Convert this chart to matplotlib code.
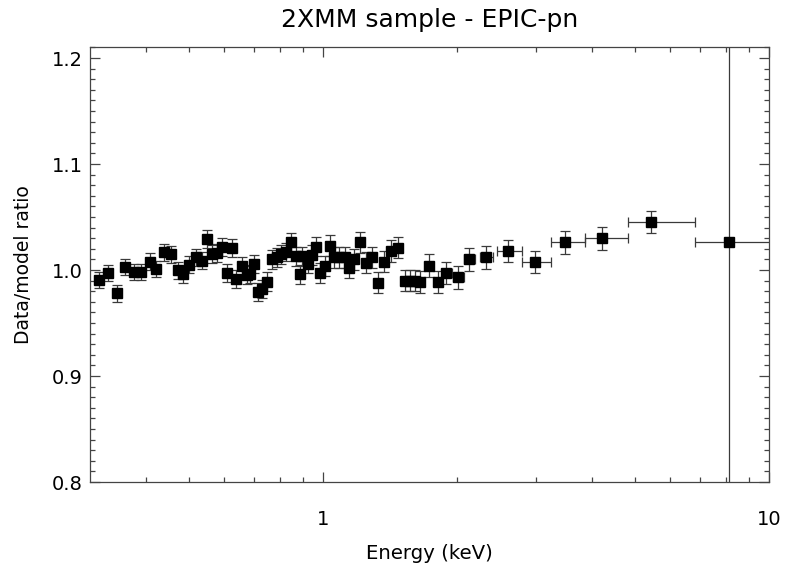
import numpy as np
import matplotlib
matplotlib.use('Agg')
import matplotlib.pyplot as plt
from matplotlib.ticker import FixedLocator, NullFormatter, MultipleLocator

plt.rcParams['font.family'] = ['DejaVu Sans']

# energy (keV) and data/model ratio
energy = [0.314, 0.329, 0.345, 0.360, 0.377, 0.390, 0.409, 0.423, 0.439, 0.455,
          0.472, 0.486, 0.501, 0.519, 0.534, 0.548, 0.562, 0.577, 0.592, 0.609,
          0.624, 0.637, 0.657, 0.674, 0.686, 0.700, 0.716, 0.731, 0.747, 0.767,
          0.787, 0.805, 0.825, 0.846, 0.868, 0.886, 0.899, 0.924, 0.946, 0.964,
          0.985, 1.010, 1.037, 1.060, 1.088, 1.117, 1.144, 1.176, 1.211, 1.247,
          1.287, 1.327, 1.371, 1.422, 1.469, 1.523, 1.569, 1.610, 1.652, 1.725,
          1.807, 1.890, 2.007, 2.129, 2.325, 2.601, 2.980, 3.479, 4.225, 5.450,
          8.145]
ratio = [0.991, 0.997, 0.978, 1.003, 0.998, 0.998, 1.008, 1.001, 1.017, 1.015,
         1.000, 0.996, 1.005, 1.012, 1.009, 1.029, 1.015, 1.016, 1.022, 0.997,
         1.021, 0.992, 1.004, 0.995, 0.996, 1.006, 0.979, 0.982, 0.989, 1.010,
         1.012, 1.015, 1.017, 1.026, 1.013, 0.996, 1.013, 1.006, 1.014, 1.022,
         0.997, 1.004, 1.023, 1.012, 1.012, 1.012, 1.002, 1.010, 1.026, 1.007,
         1.012, 0.988, 1.008, 1.018, 1.021, 0.990, 0.990, 0.990, 0.989, 1.004,
         0.989, 0.997, 0.993, 1.010, 1.012, 1.018, 1.008, 1.026, 1.030, 1.045,
         1.026]
ratio_err = [0.0076, 0.0076, 0.0078, 0.0078, 0.0078, 0.0078, 0.0080, 0.0080, 0.0080, 0.0080,
             0.0080, 0.0082, 0.0082, 0.0082, 0.0082, 0.0084, 0.0084, 0.0084, 0.0084, 0.0085,
             0.0085, 0.0085, 0.0085, 0.0086, 0.0086, 0.0086, 0.0086, 0.0087, 0.0087, 0.0088,
             0.0088, 0.0089, 0.0089, 0.0090, 0.0090, 0.0090, 0.0091, 0.0091, 0.0092, 0.0092,
             0.0095, 0.0095, 0.0096, 0.0096, 0.0097, 0.0097, 0.0098, 0.0098, 0.0099, 0.0099,
             0.0099, 0.0099, 0.0100, 0.0100, 0.0100, 0.0102, 0.0102, 0.0102, 0.0103, 0.0110,
             0.0104, 0.0105, 0.0106, 0.0108, 0.0108, 0.0108, 0.0104, 0.0108, 0.0110, 0.0104,
             0.5]
# bin edges for the wide high-energy bins (narrow bins hide under the markers)
e_lo = [None] * 61 + [1.848, 1.957, 2.067, 2.253, 2.460, 2.787, 3.237, 3.859, 4.823, 6.820]
e_hi = [None] * 61 + [1.946, 2.067, 2.195, 2.406, 2.787, 3.237, 3.859, 4.823, 6.820, 10.37]

energy = np.array(energy)
x_lo = np.array([e - lo if lo is not None else 0 for e, lo in zip(energy, e_lo)])
x_hi = np.array([hi - e if hi is not None else 0 for e, hi in zip(energy, e_hi)])

fig = plt.figure(figsize=(7.85, 5.72), dpi=100)
ax = fig.add_axes([0.1146, 0.1573, 0.865, 0.7597])

ax.errorbar(energy, ratio, yerr=ratio_err, xerr=[x_lo, x_hi], fmt='none',
            ecolor='#3a3a3a', elinewidth=0.9, capsize=3.5, capthick=0.9)
ax.plot(energy, ratio, 's', color='black', markersize=7, linestyle='none')

ax.set_xscale('log')
ax.set_xlim(0.3, 10)
ax.set_ylim(0.8, 1.21)

ax.xaxis.set_major_locator(FixedLocator([1, 10]))
ax.set_xticklabels(['1', '10'])
ax.xaxis.set_minor_locator(FixedLocator([0.4, 0.5, 0.6, 0.7, 0.8, 0.9,
                                         2, 3, 4, 5, 6, 7, 8, 9]))
ax.xaxis.set_minor_formatter(NullFormatter())
ax.yaxis.set_major_locator(FixedLocator([0.8, 0.9, 1.0, 1.1, 1.2]))
ax.set_yticklabels(['0.8', '0.9', '1.0', '1.1', '1.2'])
ax.yaxis.set_minor_locator(MultipleLocator(0.01))

ax.tick_params(which='both', direction='in', top=True, right=True,
               color='#444444', width=0.9)
ax.tick_params(which='major', length=7.2, labelsize=14)
ax.tick_params(which='minor', length=3.6)
ax.tick_params(axis='x', which='major', pad=20)
ax.tick_params(axis='y', which='major', pad=5)
for s in ax.spines.values():
    s.set_color('#444444')
    s.set_linewidth(0.9)

ax.set_title('2XMM sample - EPIC-pn', fontsize=18, pad=15)
ax.set_xlabel('Energy (keV)', fontsize=14.2, labelpad=11)
ax.set_ylabel('Data/model ratio', fontsize=13.5, labelpad=14)

fig.savefig('out.png', dpi=100)
